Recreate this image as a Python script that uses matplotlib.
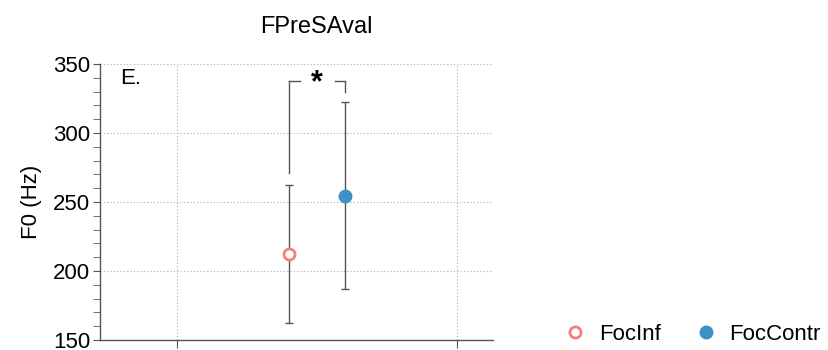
import matplotlib
matplotlib.use("Agg")
import matplotlib.pyplot as plt

plt.rcParams['font.family'] = ['Liberation Sans', 'DejaVu Sans']

groups = ["FocInf", "FocContr"]
x_pos = [1.4, 1.6]
means = [212, 254.5]
lower = [162.5, 187]
upper = [262, 322.5]
colors = ["#F08080", "#3F8FC9"]
filled = [False, True]
yticks = [150, 200, 250, 300, 350]

fig = plt.figure(figsize=(8.29, 3.5), dpi=100)
ax = fig.add_axes([100/829, 1 - 340/350, 393/829, 276/350])

for x, m, lo, hi, c, f in zip(x_pos, means, lower, upper, colors, filled):
    ax.errorbar([x], [m], yerr=[[m - lo], [hi - m]], fmt='none', ecolor='#555555',
                elinewidth=1.0, capsize=3, capthick=1.0, zorder=2)
    ax.plot([x], [m], 'o', markersize=8, markerfacecolor=(c if f else 'white'),
            markeredgecolor=c, markeredgewidth=2, zorder=3)

# significance bracket
bc = '#555555'
ax.plot([x_pos[0], x_pos[0]], [271, 338], color=bc, lw=1.0)
ax.plot([x_pos[0], x_pos[0] + 0.04], [338, 338], color=bc, lw=1.0)
ax.plot([x_pos[1] - 0.036, x_pos[1]], [338, 338], color=bc, lw=1.0)
ax.plot([x_pos[1], x_pos[1]], [330, 338], color=bc, lw=1.0)
ax.text((x_pos[0] + x_pos[1]) / 2, 336, '*', ha='center', va='center',
        fontsize=22, fontweight='bold')

ax.set_xlim(0.725, 2.129)
ax.set_ylim(150, 350)
ax.set_xticks([1, 2])
ax.set_xticklabels([])
ax.set_yticks(yticks)
ax.set_yticks(range(150, 351, 10), minor=True)
ax.tick_params(axis='y', which='both', length=5, color='#555555', labelsize=16, pad=2)
ax.tick_params(axis='x', which='both', length=6, color='#555555')
ax.grid(True, which='major', linestyle=(0, (1, 2)), color='#AAAAAA', lw=0.8)
for s in ['top', 'right']:
    ax.spines[s].set_visible(False)
for s in ['left', 'bottom']:
    ax.spines[s].set_color('#555555')
    ax.spines[s].set_linewidth(1.0)
ax.set_ylabel('F0 (Hz)', fontsize=16, labelpad=8)
fig.text(316/829, 1 - 27/350, 'FPreSAval', ha='center', va='center', fontsize=17)
ax.text(0.05, 0.985, 'E.', transform=ax.transAxes, ha='left', va='top', fontsize=16)

# legend
handles = []
for g, c, f in zip(groups, colors, filled):
    h, = ax.plot([], [], 'o', markersize=8, markerfacecolor=(c if f else 'white'),
                 markeredgecolor=c, markeredgewidth=2, linestyle='none', label=g)
    handles.append(h)
fig.legend(handles=handles, labels=groups, loc='center left',
           bbox_to_anchor=(562/829, 1 - 334/350), ncol=2, frameon=False,
           fontsize=16, handletextpad=0.45, columnspacing=1.45, handlelength=1.2,
           borderaxespad=0, borderpad=0)

fig.savefig('out.png', dpi=100)
